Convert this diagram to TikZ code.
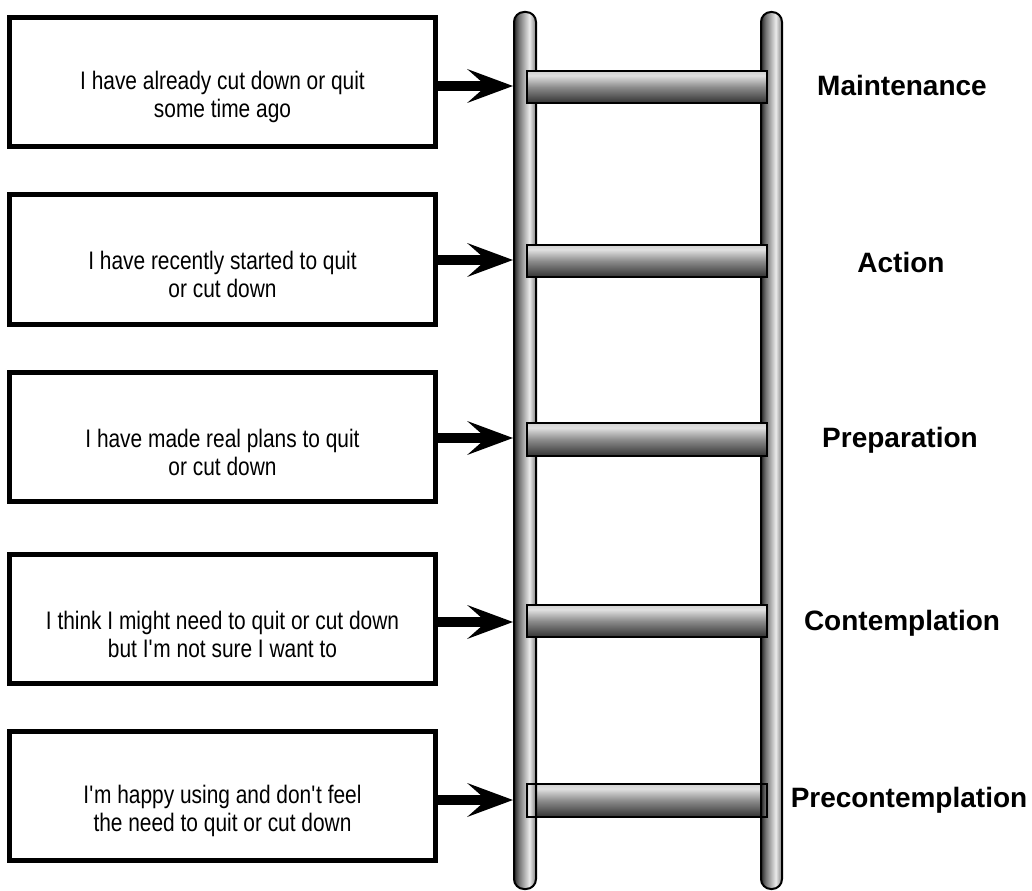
\documentclass[tikz,border=0pt]{standalone}
\usepackage{fontspec}
\setmainfont{Liberation Sans}
\newfontfamily\boxfont[FakeStretch=0.825]{Liberation Sans}
\usetikzlibrary{arrows.meta}
\pgfdeclarehorizontalshading{railshade}{100bp}{color(0bp)=(black!85); color(25bp)=(black!85); color(36bp)=(black!55); color(60bp)=(black!8); color(75bp)=(black!50); color(100bp)=(black!50)}
\pgfdeclareverticalshading{rungshade}{100bp}{color(0bp)=(black!80); color(25bp)=(black!80); color(50bp)=(black!45); color(68bp)=(black!12); color(75bp)=(black!18); color(100bp)=(black!18)}
\begin{document}
\begin{tikzpicture}[x=0.75pt,y=0.75pt,
  qbox/.style={draw, line width=3.75pt, minimum width=319.5pt, minimum height=97pt, inner sep=0pt},
  qtext/.style={align=center, font=\boxfont\fontsize{19}{21}\selectfont, inner sep=0pt},
  stage/.style={font=\bfseries\fontsize{21}{25}\selectfont, inner sep=0pt},
  rail/.style={shade, shading=railshade, draw, line width=1.5pt, rounded corners=7.5pt},
  rungfill/.style={shade, shading=rungshade},
  rungline/.style={draw, line width=1.5pt},
  arr/.style={line width=7.5pt, -{Stealth[length=34pt,width=25pt,inset=14pt]}}]
\useasboundingbox (0,0) rectangle (1032,-891);
% bottom rung fill (behind rails)
\path[rungfill] (527,-784) rectangle (767,-817);
% rails
\path[rail] (514,-12) rectangle (536,-889);
\path[rail] (761,-12) rectangle (782,-889);
% rungs
\path[rungfill, rungline] (527,-71) rectangle (767,-103);
\path[rungfill, rungline] (527,-245) rectangle (767,-277);
\path[rungfill, rungline] (527,-423) rectangle (767,-456);
\path[rungfill, rungline] (527,-605) rectangle (767,-637);
\path[rungline] (527,-784) rectangle (767,-817);
% boxes
\node[qbox] (b1) at (222.5,-82) {};
\node[qbox] (b2) at (222.5,-259.5) {};
\node[qbox] (b3) at (222.5,-437) {};
\node[qbox] (b4) at (222.5,-619) {};
\node[qbox] (b5) at (222.5,-796) {};
\node[qtext] (t1) at (222.5,-97) {I have already cut down or quit\\some time ago};
\node[qtext] (t2) at (222.5,-274.5) {I have recently started to quit\\or cut down};
\node[qtext] (t3) at (222.5,-452) {I have made real plans to quit\\or cut down};
\node[qtext] (t4) at (222.5,-634) {I think I might need to quit or cut down\\but I\textquotesingle m not sure I want to};
\node[qtext] (t5) at (222.5,-811) {I\textquotesingle m happy using and don\textquotesingle t feel\\the need to quit or cut down};
% arrow targets
\coordinate (a1) at (513,-86);
\coordinate (a2) at (513,-260);
\coordinate (a3) at (513,-438);
\coordinate (a4) at (513,-622);
\coordinate (a5) at (513,-800);
\draw[arr] (b1.east |- a1) -- (a1);
\draw[arr] (b2.east |- a2) -- (a2);
\draw[arr] (b3.east |- a3) -- (a3);
\draw[arr] (b4.east |- a4) -- (a4);
\draw[arr] (b5.east |- a5) -- (a5);
% stage labels
\node[stage] (s1) at (902,-85) {Maintenance};
\node[stage] (s2) at (901,-262) {Action};
\node[stage] (s3) at (900,-440) {Preparation};
\node[stage] (s4) at (902,-623) {Contemplation};
\node[stage] (s5) at (909,-800) {Precontemplation};
\end{tikzpicture}
\end{document}
